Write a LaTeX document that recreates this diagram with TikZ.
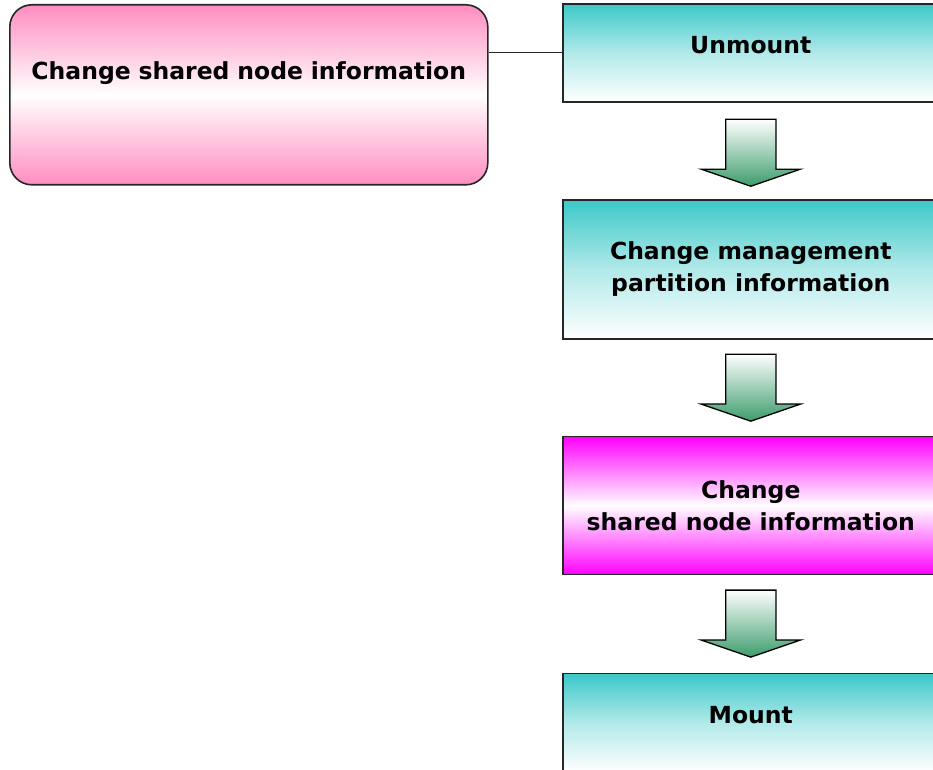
\documentclass[tikz,border=0pt]{standalone}
\usepackage{fontspec}
\setmainfont{DejaVu Sans}
\usepackage{xcolor}
\usepackage{tikz}
\usetikzlibrary{positioning, shapes.arrows}

\definecolor{tealc}{HTML}{3CC8C8}
\definecolor{magc}{HTML}{FF00FF}
\definecolor{pinkc}{HTML}{FF8DC0}
\definecolor{greenc}{HTML}{3C9C6C}

\begin{document}
\begin{tikzpicture}[
    x=1pt, y=1pt,
    font=\bfseries\fontsize{23.5}{32}\selectfont,
    stepbox/.style={draw=black!85, line width=1.6pt, minimum width=376pt, align=center, inner sep=0pt},
    tealbox/.style={stepbox, top color=tealc, bottom color=white, middle color=tealc!40!white},
    magbox/.style={stepbox, top color=magc, bottom color=magc, middle color=white},
    infobox/.style={draw=black!85, line width=1.6pt, rounded corners=22pt, top color=pinkc, bottom color=pinkc, middle color=white, text width=478pt, align=center, inner sep=0pt},
    downarrow/.style={single arrow, shape border rotate=270, draw=black, line width=1.3pt, minimum height=67pt, inner xsep=24.5pt, inner ysep=0pt, single arrow head extend=24.5pt, single arrow tip angle=142, top color=white, bottom color=greenc},
    link/.style={draw=black!85, line width=1.4pt}
]
\useasboundingbox (0,0) rectangle (933,769);
\clip (0,0) rectangle (933,769);

% Left box
\node[infobox, text height=75pt, text depth=105pt, anchor=north west] (shared) at (9,765) {Change shared node information};

% Steps
\node[tealbox, minimum height=98pt, text depth=16pt, anchor=north west] (unmount) at (562,766) {Unmount};
\node[downarrow, below=16pt of unmount, anchor=tail] (arr1) {};
\node[tealbox, minimum height=139pt, below=12pt of arr1.tip] (mgmt) {Change management\\partition information};
\node[downarrow, below=14pt of mgmt, anchor=tail] (arr2) {};
\node[magbox, minimum height=138pt, below=14pt of arr2.tip] (change) {Change\\shared node information};
\node[downarrow, below=14pt of change, anchor=tail] (arr3) {};
\node[tealbox, minimum height=98pt, text depth=16pt, below=15pt of arr3.tip] (mount) {Mount};

% Link
\draw[link] (unmount.west) -- (unmount.west -| shared.east);

\end{tikzpicture}
\end{document}
